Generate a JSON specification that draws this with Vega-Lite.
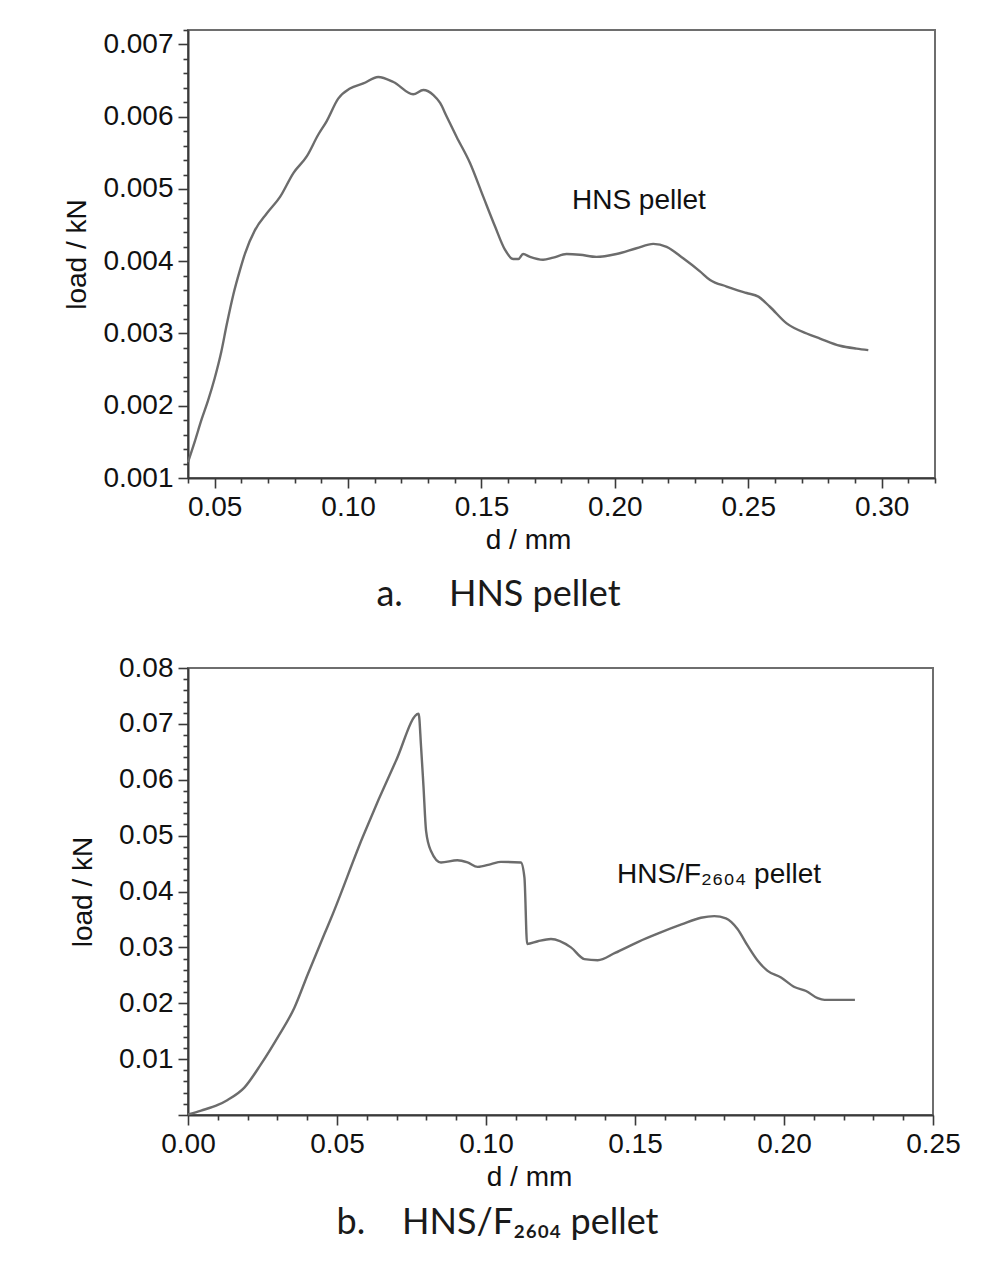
{
  "$schema": "https://vega.github.io/schema/vega-lite/v6.json",
  "background": "white",
  "padding": {"left": 62, "top": 15, "right": 10, "bottom": 10},
  "spacing": 39,
  "config": {
    "view": {"stroke": "#6e6e6e", "strokeWidth": 2},
    "axis": {
      "grid": false,
      "domainColor": "#3a3a3a",
      "domainWidth": 2,
      "tickColor": "#3a3a3a",
      "tickWidth": 1.6,
      "labelFont": "Liberation Sans",
      "labelFontSize": 28,
      "labelColor": "#111111",
      "labelFlush": false,
      "labelOverlap": false,
      "titleFont": "Liberation Sans",
      "titleFontSize": 28,
      "titleFontWeight": "normal",
      "titleColor": "#111111"
    },
    "title": {"font": "Lato", "fontSize": 36, "fontWeight": "normal", "color": "#1a1a1a"}
  },
  "vconcat": [
    {
      "width": 747,
      "height": 448,
      "title": {"text": "a.\u00a0\u00a0\u00a0\u00a0\u00a0HNS pellet", "orient": "bottom", "anchor": "middle", "dx": -63, "offset": 24},
      "encoding": {
        "x": {
          "field": "d", "type": "quantitative",
          "scale": {"domain": [0.04, 0.32], "nice": false, "zero": false},
          "axis": {
            "title": "d / mm",
            "titleX": 340,
            "titlePadding": 5,
            "labelPadding": 5,
            "labelOverlap": false,
            "labelFlush": false,
            "values": [0.04, 0.05, 0.06, 0.07, 0.08, 0.09, 0.10, 0.11, 0.12, 0.13, 0.14, 0.15, 0.16, 0.17, 0.18, 0.19, 0.20, 0.21, 0.22, 0.23, 0.24, 0.25, 0.26, 0.27, 0.28, 0.29, 0.30, 0.31, 0.32],
            "labelExpr": "abs(datum.value*20 - round(datum.value*20)) < 0.01 ? format(datum.value, '.2f') : ''",
            "tickSize": {"condition": {"test": "abs(datum.value*20 - round(datum.value*20)) < 0.01", "value": 10}, "value": 5}
          }
        },
        "y": {
          "field": "load", "type": "quantitative",
          "scale": {"domain": [0.001, 0.0072], "nice": false, "zero": false},
          "axis": {
            "title": "load / kN",
            "titlePadding": 11,
            "labelPadding": 5,
            "labelOverlap": false,
            "values": [0.001, 0.0012, 0.0014, 0.0016, 0.0018, 0.002, 0.0022, 0.0024, 0.0026, 0.0028, 0.003, 0.0032, 0.0034, 0.0036, 0.0038, 0.004, 0.0042, 0.0044, 0.0046, 0.0048, 0.005, 0.0052, 0.0054, 0.0056, 0.0058, 0.006, 0.0062, 0.0064, 0.0066, 0.0068, 0.007, 0.0072],
            "labelExpr": "abs(datum.value*1000 - round(datum.value*1000)) < 0.01 ? format(datum.value, '.3f') : ''",
            "tickSize": {"condition": {"test": "abs(datum.value*1000 - round(datum.value*1000)) < 0.01", "value": 10}, "value": 5}
          }
        }
      },
      "layer": [
        {
          "data": {"values": [
            {"d": 0.040, "load": 0.00122},
            {"d": 0.0425, "load": 0.00150},
            {"d": 0.045, "load": 0.00180},
            {"d": 0.0475, "load": 0.00207},
            {"d": 0.050, "load": 0.00238},
            {"d": 0.0525, "load": 0.00275},
            {"d": 0.0545, "load": 0.00312},
            {"d": 0.057, "load": 0.00354},
            {"d": 0.0595, "load": 0.00388},
            {"d": 0.0614, "load": 0.00411},
            {"d": 0.0651, "load": 0.00443},
            {"d": 0.0695, "load": 0.00466},
            {"d": 0.0745, "load": 0.00489},
            {"d": 0.0795, "load": 0.00522},
            {"d": 0.0845, "load": 0.00545},
            {"d": 0.0888, "load": 0.00575},
            {"d": 0.0920, "load": 0.00594},
            {"d": 0.0963, "load": 0.00625},
            {"d": 0.1007, "load": 0.00639},
            {"d": 0.1057, "load": 0.00646},
            {"d": 0.1113, "load": 0.00655},
            {"d": 0.1170, "load": 0.00648},
            {"d": 0.1244, "load": 0.00631},
            {"d": 0.1282, "load": 0.00637},
            {"d": 0.1320, "load": 0.00630},
            {"d": 0.1345, "load": 0.00619},
            {"d": 0.1370, "load": 0.00600},
            {"d": 0.1407, "load": 0.00572},
            {"d": 0.1457, "load": 0.00536},
            {"d": 0.1507, "load": 0.00489},
            {"d": 0.1551, "load": 0.00448},
            {"d": 0.1588, "load": 0.00416},
            {"d": 0.1619, "load": 0.00403},
            {"d": 0.1638, "load": 0.00403},
            {"d": 0.1656, "load": 0.00410},
            {"d": 0.1682, "load": 0.00406},
            {"d": 0.1731, "load": 0.00402},
            {"d": 0.1769, "load": 0.00405},
            {"d": 0.1819, "load": 0.00410},
            {"d": 0.1869, "load": 0.00409},
            {"d": 0.1931, "load": 0.00406},
            {"d": 0.2006, "load": 0.00410},
            {"d": 0.2081, "load": 0.00418},
            {"d": 0.2144, "load": 0.00424},
            {"d": 0.2194, "load": 0.00420},
            {"d": 0.2256, "load": 0.00404},
            {"d": 0.2319, "load": 0.00386},
            {"d": 0.2357, "load": 0.00374},
            {"d": 0.2419, "load": 0.00365},
            {"d": 0.2494, "load": 0.00356},
            {"d": 0.2538, "load": 0.00351},
            {"d": 0.2581, "load": 0.00337},
            {"d": 0.2644, "load": 0.00314},
            {"d": 0.2719, "load": 0.00300},
            {"d": 0.2769, "load": 0.00293},
            {"d": 0.2844, "load": 0.00283},
            {"d": 0.2906, "load": 0.00279},
            {"d": 0.2950, "load": 0.00277}
          ]},
          "mark": {"type": "line", "color": "#6c6c6c", "strokeWidth": 2.4, "interpolate": "monotone"}
        },
        {
          "data": {"values": [{"d": 0.209, "load": 0.00484, "label": "HNS pellet"}]},
          "mark": {"type": "text", "font": "Liberation Sans", "fontSize": 28, "color": "#111111", "align": "center", "baseline": "middle"},
          "encoding": {"text": {"field": "label"}}
        }
      ]
    },
    {
      "width": 745,
      "height": 447,
      "title": {"text": "b.\u00a0\u00a0\u00a0\u00a0HNS/F₂₆₀₄ pellet", "orient": "bottom", "anchor": "middle", "dx": -63, "offset": 15},
      "encoding": {
        "x": {
          "field": "d", "type": "quantitative",
          "scale": {"domain": [0, 0.25], "nice": false, "zero": false},
          "axis": {
            "title": "d / mm",
            "titleX": 341,
            "titlePadding": 5,
            "labelPadding": 5,
            "labelOverlap": false,
            "labelFlush": false,
            "values": [0, 0.01, 0.02, 0.03, 0.04, 0.05, 0.06, 0.07, 0.08, 0.09, 0.10, 0.11, 0.12, 0.13, 0.14, 0.15, 0.16, 0.17, 0.18, 0.19, 0.20, 0.21, 0.22, 0.23, 0.24, 0.25],
            "labelExpr": "abs(datum.value*20 - round(datum.value*20)) < 0.01 ? format(datum.value, '.2f') : ''",
            "tickSize": {"condition": {"test": "abs(datum.value*20 - round(datum.value*20)) < 0.01", "value": 10}, "value": 5}
          }
        },
        "y": {
          "field": "load", "type": "quantitative",
          "scale": {"domain": [0, 0.08], "nice": false, "zero": false},
          "axis": {
            "title": "load / kN",
            "titlePadding": 21,
            "labelPadding": 5,
            "labelOverlap": false,
            "values": [0, 0.002, 0.004, 0.006, 0.008, 0.01, 0.012, 0.014, 0.016, 0.018, 0.02, 0.022, 0.024, 0.026, 0.028, 0.03, 0.032, 0.034, 0.036, 0.038, 0.04, 0.042, 0.044, 0.046, 0.048, 0.05, 0.052, 0.054, 0.056, 0.058, 0.06, 0.062, 0.064, 0.066, 0.068, 0.07, 0.072, 0.074, 0.076, 0.078, 0.08],
            "labelExpr": "datum.value > 0.001 && abs(datum.value*100 - round(datum.value*100)) < 0.01 ? format(datum.value, '.2f') : ''",
            "tickSize": {"condition": {"test": "abs(datum.value*100 - round(datum.value*100)) < 0.01", "value": 10}, "value": 5}
          }
        }
      },
      "layer": [
        {
          "data": {"values": [
            {"d": 0.0, "load": 0.0001},
            {"d": 0.0044, "load": 0.0008},
            {"d": 0.0100, "load": 0.0018},
            {"d": 0.0133, "load": 0.0027},
            {"d": 0.0189, "load": 0.0049},
            {"d": 0.0245, "load": 0.0091},
            {"d": 0.0301, "load": 0.0139},
            {"d": 0.0357, "load": 0.0192},
            {"d": 0.0402, "load": 0.0252},
            {"d": 0.0457, "load": 0.0323},
            {"d": 0.0480, "load": 0.0352},
            {"d": 0.0586, "load": 0.0497},
            {"d": 0.0698, "load": 0.0634},
            {"d": 0.0774, "load": 0.0718},
            {"d": 0.0782, "load": 0.0660},
            {"d": 0.0790, "load": 0.0590},
            {"d": 0.0799, "load": 0.0508},
            {"d": 0.0815, "load": 0.0473},
            {"d": 0.0849, "load": 0.0452},
            {"d": 0.0904, "load": 0.0456},
            {"d": 0.0938, "load": 0.0452},
            {"d": 0.0972, "load": 0.0444},
            {"d": 0.1017, "load": 0.0449},
            {"d": 0.1050, "load": 0.0453},
            {"d": 0.1117, "load": 0.0452},
            {"d": 0.1129, "load": 0.0425},
            {"d": 0.1138, "load": 0.0306},
            {"d": 0.1174, "load": 0.0311},
            {"d": 0.1218, "load": 0.0315},
            {"d": 0.1285, "load": 0.0300},
            {"d": 0.1330, "load": 0.0279},
            {"d": 0.1375, "load": 0.0277},
            {"d": 0.1433, "load": 0.0290},
            {"d": 0.1511, "load": 0.0310},
            {"d": 0.1578, "load": 0.0325},
            {"d": 0.1656, "load": 0.0341},
            {"d": 0.1721, "load": 0.0353},
            {"d": 0.1766, "load": 0.0356},
            {"d": 0.1805, "load": 0.0352},
            {"d": 0.1844, "load": 0.0333},
            {"d": 0.1878, "load": 0.0303},
            {"d": 0.1912, "load": 0.0276},
            {"d": 0.1945, "load": 0.0258},
            {"d": 0.1990, "load": 0.0246},
            {"d": 0.2035, "load": 0.0229},
            {"d": 0.2074, "load": 0.0222},
            {"d": 0.2113, "load": 0.0209},
            {"d": 0.2136, "load": 0.0206},
            {"d": 0.2238, "load": 0.0206}
          ]},
          "mark": {"type": "line", "color": "#6c6c6c", "strokeWidth": 2.4, "interpolate": "monotone"}
        },
        {
          "data": {"values": [{"d": 0.1782, "load": 0.043, "label": "HNS/F₂₆₀₄ pellet"}]},
          "mark": {"type": "text", "font": "Liberation Sans", "fontSize": 28, "color": "#111111", "align": "center", "baseline": "middle"},
          "encoding": {"text": {"field": "label"}}
        }
      ]
    }
  ]
}
